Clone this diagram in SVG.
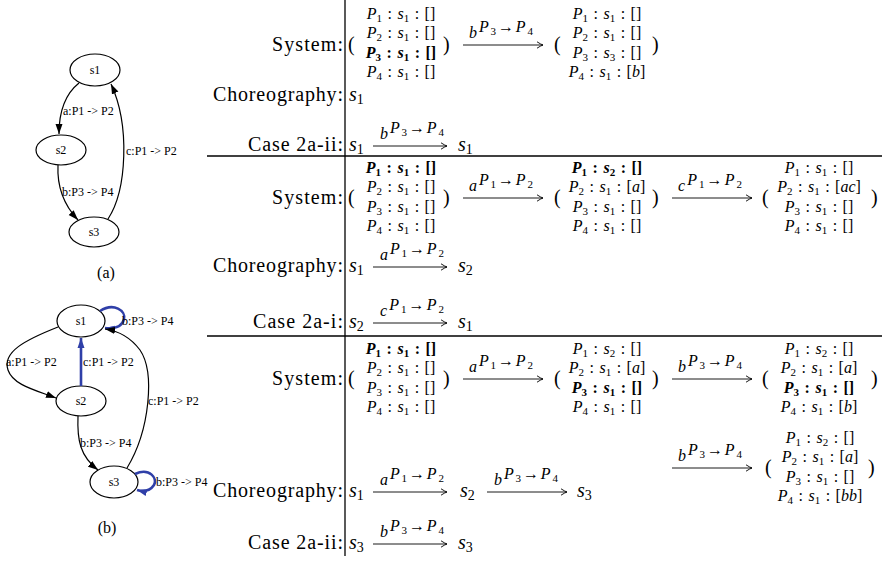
<svg xmlns="http://www.w3.org/2000/svg" width="882" height="561" viewBox="0 0 882 561" font-family="'Liberation Serif','DejaVu Serif',serif">
<style>
text{font-family:"Liberation Serif","DejaVu Serif","Times New Roman",serif;fill:#000}
.g{font-size:12px}
.gc{font-size:12px;text-anchor:middle}
.cap{font-size:16px;text-anchor:middle}
.lb{font-size:20px}
.r{font-size:16px;text-anchor:middle;word-spacing:1.5px}
.bd{font-weight:bold}
.i{font-style:italic}
.sb{font-size:11px}
.al{font-size:16px;text-anchor:middle}
.ss{font-size:11px}
.m{font-size:20px}
.ms{font-size:14px}
.node{fill:none;stroke:#000;stroke-width:1.2}
.e{fill:none;stroke:#000;stroke-width:1.2}
.eb{fill:none;stroke:#2f3fa8;stroke-width:2.6}
.ar{fill:none;stroke:#000;stroke-width:0.9}
.rule{stroke:#000;stroke-width:1.3}
</style>
<defs>
<marker id="ah" viewBox="0 0 10 8" refX="10" refY="4" markerWidth="10" markerHeight="8" markerUnits="userSpaceOnUse" orient="auto"><path d="M0,0.5 L10,4 L0,7.5 z" fill="#000"/></marker>
<marker id="ahb" viewBox="0 0 10 8" refX="10" refY="4" markerWidth="10" markerHeight="8" markerUnits="userSpaceOnUse" orient="auto"><path d="M0,0.5 L10,4 L0,7.5 z" fill="#2f3fa8"/></marker>
<marker id="la" viewBox="-8 -5 10 10" refX="0" refY="0" markerWidth="10" markerHeight="10" markerUnits="userSpaceOnUse" orient="auto"><path d="M-6,-3.2 Q-2,-0.6 0,0 Q-2,0.6 -6,3.2" fill="none" stroke="#000" stroke-width="0.9"/></marker>
</defs>

<!-- Graph (a) -->
<g id="graph-a">
<g id="a-s1"><ellipse class="node" cx="95" cy="70" rx="25" ry="16"/><text class="gc" x="95" y="74">s1</text></g>
<g id="a-s2"><ellipse class="node" cx="61" cy="150" rx="25" ry="15"/><text class="gc" x="61" y="154">s2</text></g>
<g id="a-s3"><ellipse class="node" cx="94" cy="232" rx="25" ry="15"/><text class="gc" x="94" y="236">s3</text></g>
<g id="a-edges">
<path class="e" d="M79,83 C64,95 59,112 59,134" marker-end="url(#ah)"/>
<path class="e" d="M58,165 C57,185 62,203 78,220" marker-end="url(#ah)"/>
<path class="e" d="M108,219 C127,190 130,125 111,84" marker-end="url(#ah)"/>
<text class="g" x="63" y="115">a:P1 -&gt; P2</text>
<text class="g" x="62" y="196">b:P3 -&gt; P4</text>
<text class="g" x="126" y="155">c:P1 -&gt; P2</text>
</g>
<text class="cap" x="106" y="278">(a)</text>
</g>

<!-- Graph (b) -->
<g id="graph-b">
<g id="b-s1"><ellipse class="node" cx="81" cy="321" rx="24" ry="16"/><text class="gc" x="81" y="325">s1</text></g>
<g id="b-s2"><ellipse class="node" cx="81" cy="401" rx="25" ry="15"/><text class="gc" x="81" y="405">s2</text></g>
<g id="b-s3"><ellipse class="node" cx="114" cy="482" rx="24" ry="16"/><text class="gc" x="114" y="486">s3</text></g>
<g id="b-edges">
<path class="eb" d="M100,311 C114,302 126,311 124,319 C122,327 114,329 105,328" marker-end="url(#ahb)"/>
<path class="e" d="M58,327 C25,340 2,352 8,370 C13,385 35,390 56,398" marker-end="url(#ah)"/>
<path class="eb" d="M81,386 L81,338" marker-end="url(#ahb)"/>
<path class="e" d="M127,468 C150,430 155,372 140,350 C131,338 119,331 105,329" marker-end="url(#ah)"/>
<path class="e" d="M78,416 C77,440 80,456 98,470" marker-end="url(#ah)"/>
<path class="eb" d="M135,474 C150,467 158,479 154,485 C150,491 144,492 137,490" marker-end="url(#ahb)"/>
<text class="g" x="122" y="325">b:P3 -&gt; P4</text>
<text class="g" x="6" y="366">a:P1 -&gt; P2</text>
<text class="g" x="83" y="366">c:P1 -&gt; P2</text>
<text class="g" x="148" y="405">c:P1 -&gt; P2</text>
<text class="g" x="80" y="447">b:P3 -&gt; P4</text>
<text class="g" x="156" y="486">b:P3 -&gt; P4</text>
</g>
<text class="cap" x="107" y="533">(b)</text>
</g>

<!-- Table rules -->
<g id="rules">
<line class="rule" x1="345" y1="0" x2="345" y2="556"/>
<line class="rule" x1="207" y1="156" x2="882" y2="156"/>
<line class="rule" x1="207" y1="336" x2="882" y2="336"/>
</g>

<!-- Block 1 -->
<g id="block1">
<text class="lb" x="272" y="51" textLength="71">System:</text>
<text class="lb" x="213" y="101" textLength="130">Choreography:</text>
<text class="lb" x="248" y="151" textLength="95">Case 2a-ii:</text>
<text class="m" x="348" y="51">(</text><text class="m" x="443" y="51">)</text>
<text class="r" x="401" y="19"><tspan class="i">P</tspan><tspan class="sb" dy="3">1</tspan><tspan dy="-3"> : </tspan><tspan class="i">s</tspan><tspan class="sb" dy="3">1</tspan><tspan dy="-3"> : []</tspan></text>
<text class="r" x="401" y="38"><tspan class="i">P</tspan><tspan class="sb" dy="3">2</tspan><tspan dy="-3"> : </tspan><tspan class="i">s</tspan><tspan class="sb" dy="3">1</tspan><tspan dy="-3"> : []</tspan></text>
<text class="r bd" x="401" y="58"><tspan class="i">P</tspan><tspan class="sb" dy="3">3</tspan><tspan dy="-3"> : </tspan><tspan class="i">s</tspan><tspan class="sb" dy="3">1</tspan><tspan dy="-3"> : []</tspan></text>
<text class="r" x="401" y="77"><tspan class="i">P</tspan><tspan class="sb" dy="3">4</tspan><tspan dy="-3"> : </tspan><tspan class="i">s</tspan><tspan class="sb" dy="3">1</tspan><tspan dy="-3"> : []</tspan></text>
<line class="ar" x1="463" y1="45" x2="543" y2="45" marker-end="url(#la)"/>
<text class="al" x="501" y="38" textLength="64"><tspan class="i">b</tspan><tspan class="i" dy="-6">P</tspan><tspan class="ss" dy="3">3</tspan><tspan dy="-3">→</tspan><tspan class="i">P</tspan><tspan class="ss" dy="3">4</tspan></text>
<text class="m" x="554" y="51">(</text><text class="m" x="652" y="51">)</text>
<text class="r" x="607" y="19"><tspan class="i">P</tspan><tspan class="sb" dy="3">1</tspan><tspan dy="-3"> : </tspan><tspan class="i">s</tspan><tspan class="sb" dy="3">1</tspan><tspan dy="-3"> : []</tspan></text>
<text class="r" x="607" y="38"><tspan class="i">P</tspan><tspan class="sb" dy="3">2</tspan><tspan dy="-3"> : </tspan><tspan class="i">s</tspan><tspan class="sb" dy="3">1</tspan><tspan dy="-3"> : []</tspan></text>
<text class="r" x="607" y="58"><tspan class="i">P</tspan><tspan class="sb" dy="3">3</tspan><tspan dy="-3"> : </tspan><tspan class="i">s</tspan><tspan class="sb" dy="3">3</tspan><tspan dy="-3"> : []</tspan></text>
<text class="r" x="607" y="77"><tspan class="i">P</tspan><tspan class="sb" dy="3">4</tspan><tspan dy="-3"> : </tspan><tspan class="i">s</tspan><tspan class="sb" dy="3">1</tspan><tspan dy="-3"> : [</tspan><tspan class="i">b</tspan><tspan>]</tspan></text>
<text class="m" x="349" y="101"><tspan class="i">s</tspan><tspan class="ms" dy="3">1</tspan></text>
<text class="m" x="349" y="151"><tspan class="i">s</tspan><tspan class="ms" dy="3">1</tspan></text>
<line class="ar" x1="373" y1="146" x2="447" y2="146" marker-end="url(#la)"/>
<text class="al" x="412" y="139" textLength="64"><tspan class="i">b</tspan><tspan class="i" dy="-6">P</tspan><tspan class="ss" dy="3">3</tspan><tspan dy="-3">→</tspan><tspan class="i">P</tspan><tspan class="ss" dy="3">4</tspan></text>
<text class="m" x="458" y="151"><tspan class="i">s</tspan><tspan class="ms" dy="3">1</tspan></text>
</g>

<!-- Block 2 -->
<g id="block2">
<text class="lb" x="272" y="204" textLength="71">System:</text>
<text class="lb" x="213" y="272" textLength="130">Choreography:</text>
<text class="lb" x="253" y="328" textLength="90">Case 2a-i:</text>
<text class="m" x="348" y="204">(</text><text class="m" x="443" y="204">)</text>
<text class="r bd" x="401" y="173"><tspan class="i">P</tspan><tspan class="sb" dy="3">1</tspan><tspan dy="-3"> : </tspan><tspan class="i">s</tspan><tspan class="sb" dy="3">1</tspan><tspan dy="-3"> : []</tspan></text>
<text class="r" x="401" y="192"><tspan class="i">P</tspan><tspan class="sb" dy="3">2</tspan><tspan dy="-3"> : </tspan><tspan class="i">s</tspan><tspan class="sb" dy="3">1</tspan><tspan dy="-3"> : []</tspan></text>
<text class="r" x="401" y="212"><tspan class="i">P</tspan><tspan class="sb" dy="3">3</tspan><tspan dy="-3"> : </tspan><tspan class="i">s</tspan><tspan class="sb" dy="3">1</tspan><tspan dy="-3"> : []</tspan></text>
<text class="r" x="401" y="231"><tspan class="i">P</tspan><tspan class="sb" dy="3">4</tspan><tspan dy="-3"> : </tspan><tspan class="i">s</tspan><tspan class="sb" dy="3">1</tspan><tspan dy="-3"> : []</tspan></text>
<line class="ar" x1="463" y1="198" x2="543" y2="198" marker-end="url(#la)"/>
<text class="al" x="501" y="191" textLength="64"><tspan class="i">a</tspan><tspan class="i" dy="-6">P</tspan><tspan class="ss" dy="3">1</tspan><tspan dy="-3">→</tspan><tspan class="i">P</tspan><tspan class="ss" dy="3">2</tspan></text>
<text class="m" x="554" y="204">(</text><text class="m" x="652" y="204">)</text>
<text class="r bd" x="607" y="173"><tspan class="i">P</tspan><tspan class="sb" dy="3">1</tspan><tspan dy="-3"> : </tspan><tspan class="i">s</tspan><tspan class="sb" dy="3">2</tspan><tspan dy="-3"> : []</tspan></text>
<text class="r" x="607" y="192"><tspan class="i">P</tspan><tspan class="sb" dy="3">2</tspan><tspan dy="-3"> : </tspan><tspan class="i">s</tspan><tspan class="sb" dy="3">1</tspan><tspan dy="-3"> : [</tspan><tspan class="i">a</tspan><tspan>]</tspan></text>
<text class="r" x="607" y="212"><tspan class="i">P</tspan><tspan class="sb" dy="3">3</tspan><tspan dy="-3"> : </tspan><tspan class="i">s</tspan><tspan class="sb" dy="3">1</tspan><tspan dy="-3"> : []</tspan></text>
<text class="r" x="607" y="231"><tspan class="i">P</tspan><tspan class="sb" dy="3">4</tspan><tspan dy="-3"> : </tspan><tspan class="i">s</tspan><tspan class="sb" dy="3">1</tspan><tspan dy="-3"> : []</tspan></text>
<line class="ar" x1="672" y1="198" x2="752" y2="198" marker-end="url(#la)"/>
<text class="al" x="710" y="191" textLength="64"><tspan class="i">c</tspan><tspan class="i" dy="-6">P</tspan><tspan class="ss" dy="3">1</tspan><tspan dy="-3">→</tspan><tspan class="i">P</tspan><tspan class="ss" dy="3">2</tspan></text>
<text class="m" x="762" y="204">(</text><text class="m" x="871" y="204">)</text>
<text class="r" x="819" y="173"><tspan class="i">P</tspan><tspan class="sb" dy="3">1</tspan><tspan dy="-3"> : </tspan><tspan class="i">s</tspan><tspan class="sb" dy="3">1</tspan><tspan dy="-3"> : []</tspan></text>
<text class="r" x="819" y="192"><tspan class="i">P</tspan><tspan class="sb" dy="3">2</tspan><tspan dy="-3"> : </tspan><tspan class="i">s</tspan><tspan class="sb" dy="3">1</tspan><tspan dy="-3"> : [</tspan><tspan class="i">ac</tspan><tspan>]</tspan></text>
<text class="r" x="819" y="212"><tspan class="i">P</tspan><tspan class="sb" dy="3">3</tspan><tspan dy="-3"> : </tspan><tspan class="i">s</tspan><tspan class="sb" dy="3">1</tspan><tspan dy="-3"> : []</tspan></text>
<text class="r" x="819" y="231"><tspan class="i">P</tspan><tspan class="sb" dy="3">4</tspan><tspan dy="-3"> : </tspan><tspan class="i">s</tspan><tspan class="sb" dy="3">1</tspan><tspan dy="-3"> : []</tspan></text>
<text class="m" x="349" y="272"><tspan class="i">s</tspan><tspan class="ms" dy="3">1</tspan></text>
<line class="ar" x1="373" y1="267" x2="447" y2="267" marker-end="url(#la)"/>
<text class="al" x="412" y="260" textLength="64"><tspan class="i">a</tspan><tspan class="i" dy="-6">P</tspan><tspan class="ss" dy="3">1</tspan><tspan dy="-3">→</tspan><tspan class="i">P</tspan><tspan class="ss" dy="3">2</tspan></text>
<text class="m" x="458" y="272"><tspan class="i">s</tspan><tspan class="ms" dy="3">2</tspan></text>
<text class="m" x="349" y="328"><tspan class="i">s</tspan><tspan class="ms" dy="3">2</tspan></text>
<line class="ar" x1="373" y1="323" x2="447" y2="323" marker-end="url(#la)"/>
<text class="al" x="412" y="316" textLength="64"><tspan class="i">c</tspan><tspan class="i" dy="-6">P</tspan><tspan class="ss" dy="3">1</tspan><tspan dy="-3">→</tspan><tspan class="i">P</tspan><tspan class="ss" dy="3">2</tspan></text>
<text class="m" x="458" y="328"><tspan class="i">s</tspan><tspan class="ms" dy="3">1</tspan></text>
</g>

<!-- Block 3 -->
<g id="block3">
<text class="lb" x="272" y="385" textLength="71">System:</text>
<text class="lb" x="213" y="497" textLength="130">Choreography:</text>
<text class="lb" x="248" y="549" textLength="95">Case 2a-ii:</text>
<text class="m" x="348" y="385">(</text><text class="m" x="443" y="385">)</text>
<text class="r bd" x="401" y="354"><tspan class="i">P</tspan><tspan class="sb" dy="3">1</tspan><tspan dy="-3"> : </tspan><tspan class="i">s</tspan><tspan class="sb" dy="3">1</tspan><tspan dy="-3"> : []</tspan></text>
<text class="r" x="401" y="373"><tspan class="i">P</tspan><tspan class="sb" dy="3">2</tspan><tspan dy="-3"> : </tspan><tspan class="i">s</tspan><tspan class="sb" dy="3">1</tspan><tspan dy="-3"> : []</tspan></text>
<text class="r" x="401" y="393"><tspan class="i">P</tspan><tspan class="sb" dy="3">3</tspan><tspan dy="-3"> : </tspan><tspan class="i">s</tspan><tspan class="sb" dy="3">1</tspan><tspan dy="-3"> : []</tspan></text>
<text class="r" x="401" y="412"><tspan class="i">P</tspan><tspan class="sb" dy="3">4</tspan><tspan dy="-3"> : </tspan><tspan class="i">s</tspan><tspan class="sb" dy="3">1</tspan><tspan dy="-3"> : []</tspan></text>
<line class="ar" x1="463" y1="379" x2="543" y2="379" marker-end="url(#la)"/>
<text class="al" x="501" y="372" textLength="64"><tspan class="i">a</tspan><tspan class="i" dy="-6">P</tspan><tspan class="ss" dy="3">1</tspan><tspan dy="-3">→</tspan><tspan class="i">P</tspan><tspan class="ss" dy="3">2</tspan></text>
<text class="m" x="554" y="385">(</text><text class="m" x="652" y="385">)</text>
<text class="r" x="607" y="354"><tspan class="i">P</tspan><tspan class="sb" dy="3">1</tspan><tspan dy="-3"> : </tspan><tspan class="i">s</tspan><tspan class="sb" dy="3">2</tspan><tspan dy="-3"> : []</tspan></text>
<text class="r" x="607" y="373"><tspan class="i">P</tspan><tspan class="sb" dy="3">2</tspan><tspan dy="-3"> : </tspan><tspan class="i">s</tspan><tspan class="sb" dy="3">1</tspan><tspan dy="-3"> : [</tspan><tspan class="i">a</tspan><tspan>]</tspan></text>
<text class="r bd" x="607" y="393"><tspan class="i">P</tspan><tspan class="sb" dy="3">3</tspan><tspan dy="-3"> : </tspan><tspan class="i">s</tspan><tspan class="sb" dy="3">1</tspan><tspan dy="-3"> : []</tspan></text>
<text class="r" x="607" y="412"><tspan class="i">P</tspan><tspan class="sb" dy="3">4</tspan><tspan dy="-3"> : </tspan><tspan class="i">s</tspan><tspan class="sb" dy="3">1</tspan><tspan dy="-3"> : []</tspan></text>
<line class="ar" x1="672" y1="379" x2="752" y2="379" marker-end="url(#la)"/>
<text class="al" x="710" y="372" textLength="64"><tspan class="i">b</tspan><tspan class="i" dy="-6">P</tspan><tspan class="ss" dy="3">3</tspan><tspan dy="-3">→</tspan><tspan class="i">P</tspan><tspan class="ss" dy="3">4</tspan></text>
<text class="m" x="762" y="385">(</text><text class="m" x="871" y="385">)</text>
<text class="r" x="819" y="354"><tspan class="i">P</tspan><tspan class="sb" dy="3">1</tspan><tspan dy="-3"> : </tspan><tspan class="i">s</tspan><tspan class="sb" dy="3">2</tspan><tspan dy="-3"> : []</tspan></text>
<text class="r" x="819" y="373"><tspan class="i">P</tspan><tspan class="sb" dy="3">2</tspan><tspan dy="-3"> : </tspan><tspan class="i">s</tspan><tspan class="sb" dy="3">1</tspan><tspan dy="-3"> : [</tspan><tspan class="i">a</tspan><tspan>]</tspan></text>
<text class="r bd" x="819" y="393"><tspan class="i">P</tspan><tspan class="sb" dy="3">3</tspan><tspan dy="-3"> : </tspan><tspan class="i">s</tspan><tspan class="sb" dy="3">1</tspan><tspan dy="-3"> : []</tspan></text>
<text class="r" x="819" y="412"><tspan class="i">P</tspan><tspan class="sb" dy="3">4</tspan><tspan dy="-3"> : </tspan><tspan class="i">s</tspan><tspan class="sb" dy="3">1</tspan><tspan dy="-3"> : [</tspan><tspan class="i">b</tspan><tspan>]</tspan></text>
<line class="ar" x1="672" y1="468" x2="752" y2="468" marker-end="url(#la)"/>
<text class="al" x="710" y="461" textLength="64"><tspan class="i">b</tspan><tspan class="i" dy="-6">P</tspan><tspan class="ss" dy="3">3</tspan><tspan dy="-3">→</tspan><tspan class="i">P</tspan><tspan class="ss" dy="3">4</tspan></text>
<text class="m" x="765" y="474">(</text><text class="m" x="868" y="474">)</text>
<text class="r" x="820" y="443"><tspan class="i">P</tspan><tspan class="sb" dy="3">1</tspan><tspan dy="-3"> : </tspan><tspan class="i">s</tspan><tspan class="sb" dy="3">2</tspan><tspan dy="-3"> : []</tspan></text>
<text class="r" x="820" y="462"><tspan class="i">P</tspan><tspan class="sb" dy="3">2</tspan><tspan dy="-3"> : </tspan><tspan class="i">s</tspan><tspan class="sb" dy="3">1</tspan><tspan dy="-3"> : [</tspan><tspan class="i">a</tspan><tspan>]</tspan></text>
<text class="r" x="820" y="482"><tspan class="i">P</tspan><tspan class="sb" dy="3">3</tspan><tspan dy="-3"> : </tspan><tspan class="i">s</tspan><tspan class="sb" dy="3">1</tspan><tspan dy="-3"> : []</tspan></text>
<text class="r" x="820" y="501"><tspan class="i">P</tspan><tspan class="sb" dy="3">4</tspan><tspan dy="-3"> : </tspan><tspan class="i">s</tspan><tspan class="sb" dy="3">1</tspan><tspan dy="-3"> : [</tspan><tspan class="i">bb</tspan><tspan>]</tspan></text>
<text class="m" x="349" y="497"><tspan class="i">s</tspan><tspan class="ms" dy="3">1</tspan></text>
<line class="ar" x1="373" y1="492" x2="447" y2="492" marker-end="url(#la)"/>
<text class="al" x="412" y="485" textLength="64"><tspan class="i">a</tspan><tspan class="i" dy="-6">P</tspan><tspan class="ss" dy="3">1</tspan><tspan dy="-3">→</tspan><tspan class="i">P</tspan><tspan class="ss" dy="3">2</tspan></text>
<text class="m" x="460" y="497"><tspan class="i">s</tspan><tspan class="ms" dy="3">2</tspan></text>
<line class="ar" x1="487" y1="492" x2="567" y2="492" marker-end="url(#la)"/>
<text class="al" x="526" y="485" textLength="64"><tspan class="i">b</tspan><tspan class="i" dy="-6">P</tspan><tspan class="ss" dy="3">3</tspan><tspan dy="-3">→</tspan><tspan class="i">P</tspan><tspan class="ss" dy="3">4</tspan></text>
<text class="m" x="577" y="497"><tspan class="i">s</tspan><tspan class="ms" dy="3">3</tspan></text>
<text class="m" x="349" y="549"><tspan class="i">s</tspan><tspan class="ms" dy="3">3</tspan></text>
<line class="ar" x1="373" y1="544" x2="447" y2="544" marker-end="url(#la)"/>
<text class="al" x="412" y="537" textLength="64"><tspan class="i">b</tspan><tspan class="i" dy="-6">P</tspan><tspan class="ss" dy="3">3</tspan><tspan dy="-3">→</tspan><tspan class="i">P</tspan><tspan class="ss" dy="3">4</tspan></text>
<text class="m" x="458" y="549"><tspan class="i">s</tspan><tspan class="ms" dy="3">3</tspan></text>
</g>
</svg>
